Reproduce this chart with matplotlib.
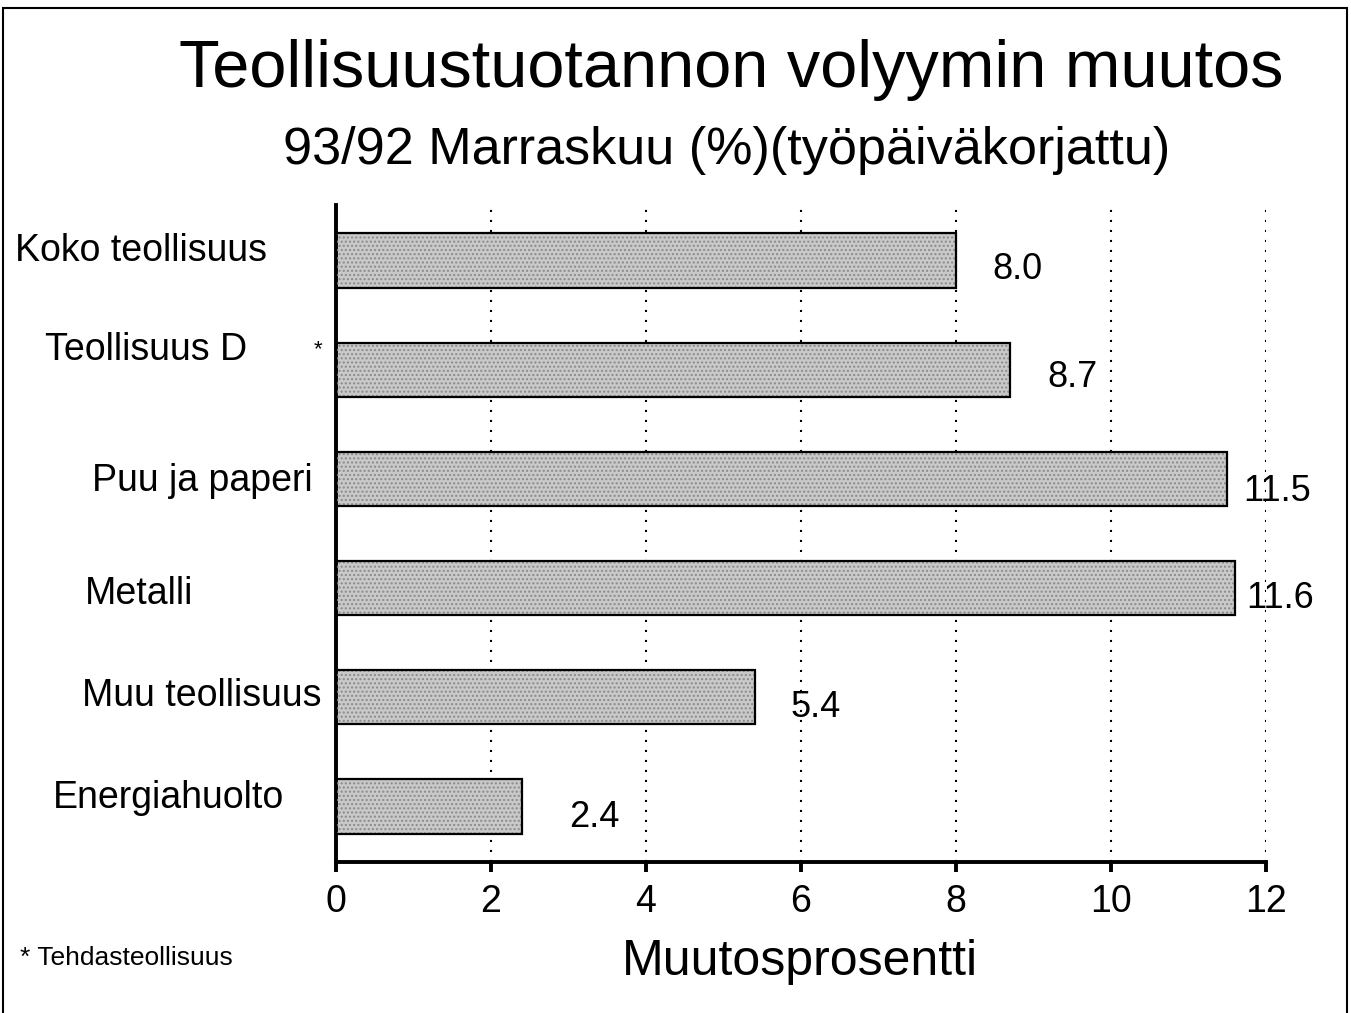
import matplotlib
matplotlib.use("Agg")
import matplotlib.pyplot as plt
from matplotlib.patches import Rectangle

plt.rcParams['font.family'] = ['Liberation Sans', 'DejaVu Sans']

# ---- data ----
categories = ["Koko teollisuus", "Teollisuus D", "Puu ja paperi", "Metalli",
              "Muu teollisuus", "Energiahuolto"]
values = [8.0, 8.7, 11.5, 11.6, 5.4, 2.4]
value_labels = ["8.0", "8.7", "11.5", "11.6", "5.4", "2.4"]
xticks = [0, 2, 4, 6, 8, 10, 12]
title = "Teollisuustuotannon volyymin muutos"
subtitle = "93/92 Marraskuu (%)(työpäiväkorjattu)"
xlabel = "Muutosprosentti"
footnote = "* Tehdasteollisuus"

# ---- layout (pixel offsets) ----
W, H = 1351, 1013
cat_dx = [-321, -291, -244, -251, -254, -283]       # label left edge relative to x=0
cat_dy = [0, 10, -12, -16, -9, -2]                  # baseline relative to bar centre (up +)
val_dx = [36, 37, 16, 11, 36, 47]
val_dy = [-18, -17, -22, -20, -20, -21]

fig = plt.figure(figsize=(W / 100, H / 100), dpi=100)
ax = fig.add_axes([336 / W, 1 - 862 / H, (1266 - 336) / W, (862 - 205) / H])

pos = list(range(len(categories)))
ax.barh(pos, values, height=0.5, color="#c9c9c9", edgecolor="none", zorder=2)
ax.barh(pos, values, height=0.5, color="none", edgecolor="#8a8a8a",
        hatch="....", linewidth=0, zorder=3)
ax.barh(pos, values, height=0.5, color="none", edgecolor="black",
        linewidth=1.6, zorder=4)

ax.set_xlim(0, 12)
ax.set_ylim(5.51, -0.51)
ax.set_xticks(xticks)
ax.set_xticklabels([str(t) for t in xticks], fontsize=27)
ax.set_yticks([])
for s in ["top", "right"]:
    ax.spines[s].set_visible(False)
ax.spines["left"].set_linewidth(2.8)
ax.spines["bottom"].set_linewidth(2.8)
ax.tick_params(axis="x", length=7, width=2.8, pad=9, direction="out")
ax.xaxis.grid(True, linestyle=(0, (1, 3.8)), linewidth=1.5, color="black", zorder=1)
ax.set_axisbelow(True)

for i, (c, dx, dy) in enumerate(zip(categories, cat_dx, cat_dy)):
    ax.annotate(c, xy=(0, i), xytext=(dx, dy), textcoords="offset pixels",
                ha="left", va="baseline", fontsize=27, annotation_clip=False)

for i, (v, lab, dx, dy) in enumerate(zip(values, value_labels, val_dx, val_dy)):
    ax.annotate(lab, xy=(v, i), xytext=(dx, dy), textcoords="offset pixels",
                ha="left", va="baseline", fontsize=26, annotation_clip=False)

# asterisk marking Teollisuus D
ax.annotate("*", xy=(0, 1), xytext=(-18, 20), textcoords="offset pixels",
            ha="center", va="center", fontsize=16, annotation_clip=False)

fig.text(731 / W, 1 - 87 / H, title, ha="center", va="baseline", fontsize=48)
fig.text(727 / W, 1 - 164 / H, subtitle, ha="center", va="baseline", fontsize=37.5)
fig.text(800 / W, 1 - 975 / H, xlabel, ha="center", va="baseline", fontsize=36)
fig.text(20 / W, 1 - 965 / H, footnote, ha="left", va="baseline", fontsize=19)

fig.patches.append(Rectangle((3 / W, -0.01), (1347 - 3) / W, 1.01 - 8 / H,
                             transform=fig.transFigure, fill=False,
                             edgecolor="black", linewidth=1.5))

fig.savefig("out.png", dpi=100)
